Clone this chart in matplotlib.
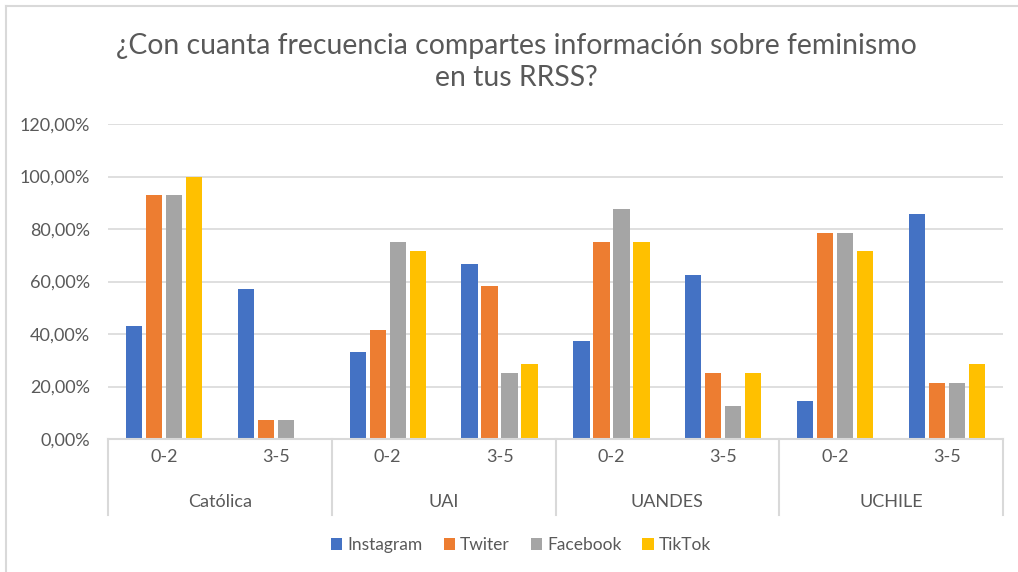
import matplotlib
matplotlib.use("Agg")
from matplotlib import pyplot as plt
from matplotlib.patches import Patch
from matplotlib.lines import Line2D
import matplotlib.transforms as mtransforms
import numpy as np

plt.rcParams['font.family'] = ['Lato', 'DejaVu Sans']

universities = ["Católica", "UAI", "UANDES", "UCHILE"]
ranges = ["0-2", "3-5"]
series_names = ["Instagram", "Twiter", "Facebook", "TikTok"]
colors = ['#4472C4', '#ED7D31', '#A5A5A5', '#FFC000']

# one value per (university, range), in that order
instagram = [0.4286, 0.5714, 0.3333, 0.6667, 0.375, 0.625, 0.1429, 0.8571]
twiter = [0.9286, 0.0714, 0.4167, 0.5833, 0.75, 0.25, 0.7857, 0.2143]
facebook = [0.9286, 0.0714, 0.75, 0.25, 0.875, 0.125, 0.7857, 0.2143]
tiktok = [1.0, 0.0, 0.7143, 0.2857, 0.75, 0.25, 0.7143, 0.2857]

y_ticks = [0, 0.2, 0.4, 0.6, 0.8, 1.0, 1.2]
text_color = '#595959'
grid_color = '#D9D9D9'
lab_size = 13

W, H = 1018, 572
fig = plt.figure(figsize=(W / 100, H / 100), dpi=100)
ax = fig.add_axes([108 / W, 1 - 439 / H, (1003 - 108) / W, (439 - 124) / H])

# frame around the chart (only top and left visible in the picture)
fig.add_artist(Line2D([6 / W, 6 / W], [0, 1 - 6 / H], color=grid_color, lw=1.5))
fig.add_artist(Line2D([6 / W, 1], [1 - 6 / H, 1 - 6 / H], color=grid_color, lw=1.5))

x = np.arange(len(universities) * len(ranges))
step = 0.179
bar_w = 0.145
for i, (vals, name) in enumerate(zip([instagram, twiter, facebook, tiktok], series_names)):
    ax.bar(x + (i - 1.5) * step, vals, bar_w, color=colors[i], label=name, zorder=3)

ax.set_xlim(-0.5, len(x) - 0.5)
ax.set_ylim(0, 1.2)
ax.set_yticks(y_ticks)
ax.set_yticklabels([f"{v * 100:.2f}%".replace('.', ',') for v in y_ticks])
ax.tick_params(axis='y', length=0, pad=13, labelsize=lab_size, labelcolor=text_color)
ax.set_xticks([])
ax.yaxis.grid(True, color=grid_color, lw=1.2, zorder=0)
for s in ax.spines.values():
    s.set_visible(False)
ax.axhline(0, color=grid_color, lw=1.5, zorder=4, clip_on=False)

trans = mtransforms.blended_transform_factory(ax.transData, ax.transAxes)
n_r = len(ranges)
for g, uni in enumerate(universities):
    for r, lab in enumerate(ranges):
        ax.text(g * n_r + r, -0.057, lab, transform=trans, ha='center', va='center',
                fontsize=lab_size, color=text_color)
    ax.text(g * n_r + (n_r - 1) / 2, -0.2, uni, transform=trans, ha='center', va='center',
            fontsize=lab_size, color=text_color)
for b in range(len(universities) + 1):
    ax.plot([b * n_r - 0.5] * 2, [0, -0.241], transform=trans, color=grid_color,
            lw=1.5, clip_on=False)

fig.text(516 / W, 1 - 62 / H, "¿Con cuanta frecuencia compartes información sobre feminismo\nen tus RRSS?",
         ha='center', va='center', fontsize=20.4, color=text_color, linespacing=1.3)

handles = [Patch(facecolor=c, label=n) for c, n in zip(colors, series_names)]
fig.legend(handles=handles, loc='center', bbox_to_anchor=(521 / W, 1 - 545 / H), ncol=4,
           frameon=False, fontsize=12.5, handlelength=0.65, handleheight=0.65,
           handletextpad=0.3, columnspacing=1.2, labelcolor=text_color)

fig.savefig("out.png", dpi=100)
